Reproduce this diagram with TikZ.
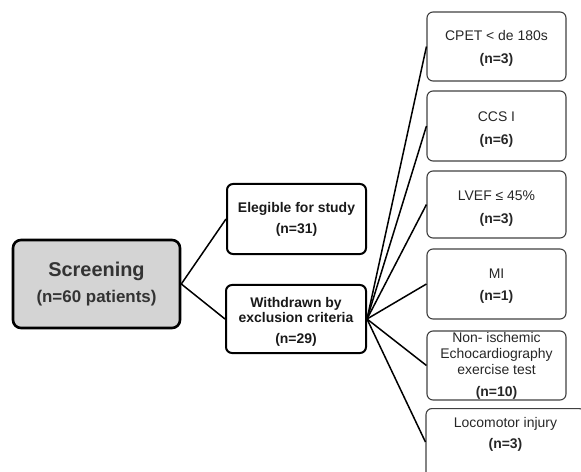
\documentclass[tikz,border=0pt]{standalone}
\usepackage{fontspec}
\setmainfont{Liberation Sans}
\newcommand{\topfill}[1]{\rule{0pt}{#1}}
\begin{document}
\begin{tikzpicture}[x=1bp,y=-1bp,
  rbox/.style={draw=black!75, rounded corners=6bp, line width=1.1bp, align=center,
    inner sep=0pt, text=black!85, minimum width=139bp, font=\fontsize{14}{16}\selectfont},
  mbox/.style={draw=black, rounded corners=6bp, line width=2bp, align=center,
    inner sep=0pt, text=black!90, font=\bfseries\fontsize{14}{15}\selectfont},
  sbox/.style={draw=black, fill=black!17, rounded corners=8bp, line width=2.6bp, align=center,
    inner sep=0pt, text=black!80, minimum width=167bp, minimum height=88bp},
  link/.style={line width=1.5bp, draw=black}]
\useasboundingbox (0,0) rectangle (581,472);
\begin{scope}
\clip (0,0) rectangle (581,472);
\node[sbox] (scr) at (96.5,284) {{\bfseries\fontsize{20}{24}\selectfont Screening}\\[8bp]{\bfseries\fontsize{17}{20}\selectfont (n=60 patients)}};
\node[mbox, minimum width=139bp, minimum height=70bp] (eleg) at (296.5,219) {Elegible for study\\[6bp](n=31)};
\node[mbox, minimum width=140bp, minimum height=68bp] (with) at (296,319) {\topfill{16bp}Withdrawn by\\exclusion criteria\\[6bp](n=29)};
\node[rbox, minimum height=69bp] (cpet) at (496.5,46.5) {\topfill{14bp}CPET < de 180s\\[7bp]\textbf{(n=3)}};
\node[rbox, minimum height=70bp] (ccs) at (496.5,126) {\topfill{16bp}CCS I\\[7bp]\textbf{(n=6)}};
\node[rbox, minimum height=67bp] (lvef) at (496.5,204.5) {\topfill{17bp}LVEF ≤ 45\%\\[7bp]\textbf{(n=3)}};
\node[rbox, minimum height=70bp] (mi) at (496.5,284) {\topfill{14bp}MI\\[6bp]\textbf{(n=1)}};
\node[rbox, minimum height=69bp] (non) at (496.5,365.5) {Non- ischemic\\Echocardiography\\exercise test\\[6bp]\textbf{(n=10)}};
\node[rbox, minimum width=159bp, anchor=north, inner ysep=9bp, text depth=60bp] (loco) at (505.5,408) {Locomotor injury\\[5bp]\textbf{(n=3)}};
\draw[link] (scr.east) -- (eleg.west);
\draw[link] (scr.east) -- (with.west);
\foreach \t in {cpet,ccs,lvef,mi,non}
  \draw[link] (with.east) -- (\t.west);
\draw[link] (with.east) -- ([yshift=-34bp]loco.north west);
\end{scope}
\end{tikzpicture}
\end{document}
